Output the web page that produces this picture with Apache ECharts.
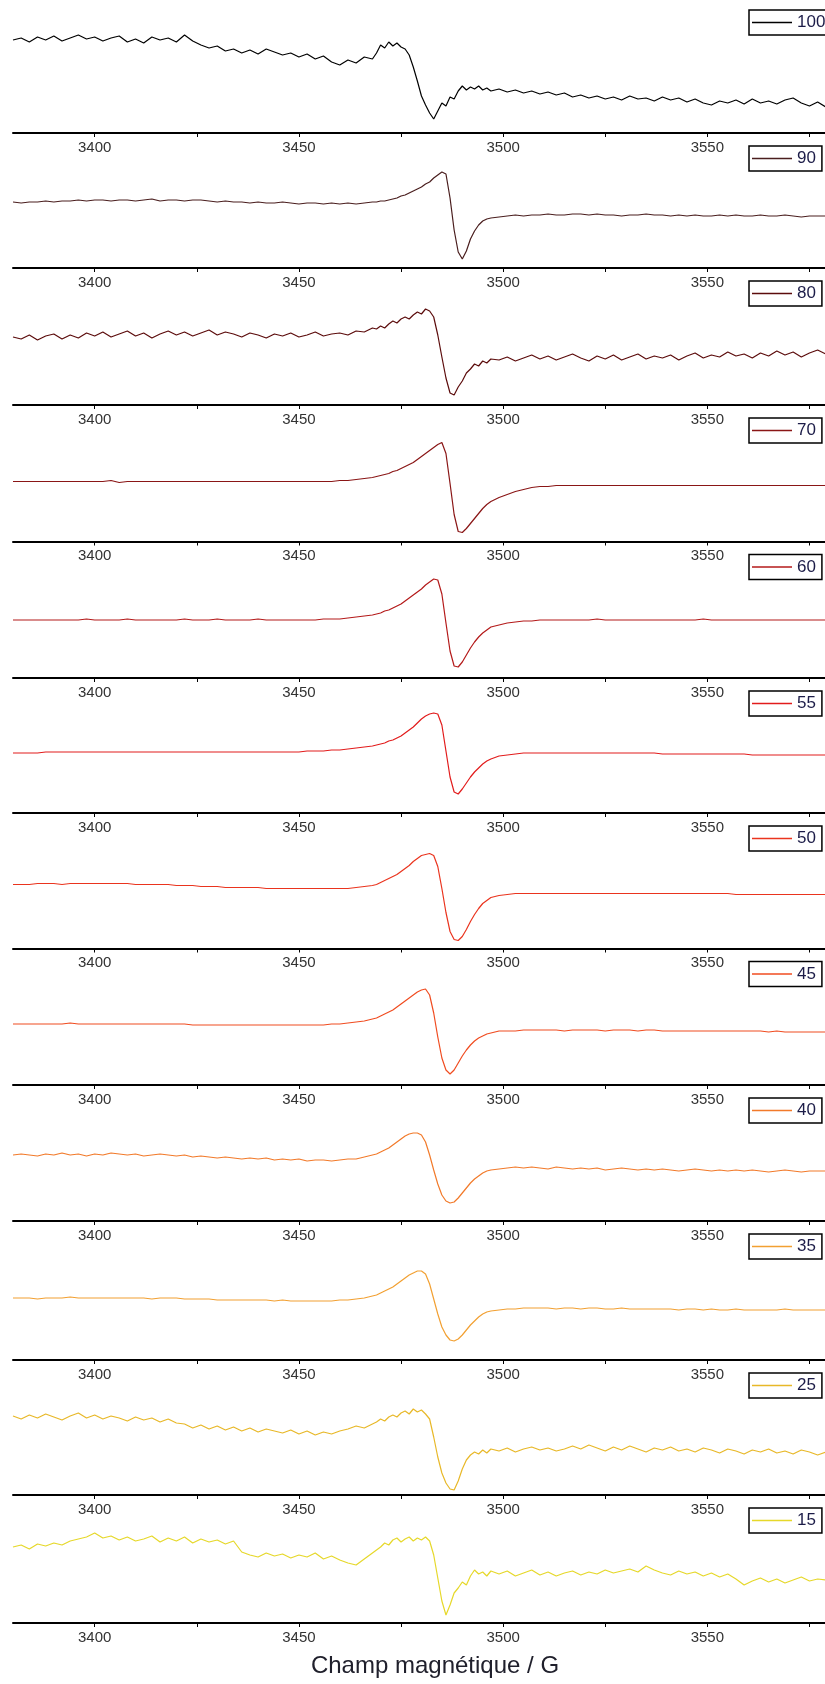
<!DOCTYPE html>
<html><head><meta charset="utf-8">
<script src="https://cdn.jsdelivr.net/npm/echarts@6/dist/echarts.min.js"></script>
<style>html,body{margin:0;padding:0;background:#fff}#c{width:825px;height:1684px}</style>
</head><body><div id="c"></div>
<script>
// Magnetic field (G)
const field = [
3380,3382,3384,3386,3388,3390,3392,3394,3396,3398,3400,3402,3404,3406,3408,3410,3412,3414,3416,3418,3420,3422,3424,3426,3428,3430,3432,3434,3436,3438,3440,3442,3444,3446,3448,3450,3452,3454,3456,3458,3460,3462,3464,3466,3468,
3469,3470,3471,3472,3473,3474,3475,3476,3477,3478,3479,3480,3481,3482,3483,3484,3485,3486,3487,3488,3489,3490,3491,3492,3493,3494,3495,3496,3497,
3499,3501,3503,3505,3507,3509,3511,3513,3515,3517,3519,3521,3523,3525,3527,3529,3531,3533,3535,3537,3539,3541,3543,3545,3547,3549,3551,3553,3555,3557,3559,3561,3563,3565,3567,3569,3571,3573,3575,3577,3579];

const names = ['100','90','80','70','60','55','50','45','40','35','25','15'];

// EPR signal (a.u.) per trace
const s100 = [93,95,91,96,93,97,92,95,98,94, 96,92,95,97,91,94,90,96,93,95, 91,98,92,88,85,87,82,84,80,83, 79,84,81,78,80,76,79,74,77,71, 68,73,70,76,74,
80,88,85,91,87,90,86,84,78,66, 52,37,28,20,14,22,30,27,36,34, 42,47,43,46,44,47,43,45,42,
44,41,43,40,42,39,41,38,40,36, 38,35,37,34,36,33,37,34,35,32, 36,33,35,31,34,30,28,32,30,33, 29,34,30,32,29,33,35,30,27,31, 26];
const s90 = [66,65,66,66,67,66,67,67,68,67, 68,68,67,68,68,67,68,69,67,68, 68,67,68,68,67,66,67,66,66,65, 66,65,65,66,65,64,65,65,64,65, 64,65,64,65,66,
66,67,67,68,69,70,72,73,75,77, 79,81,84,86,90,93,96,94,70,38, 16,9,17,29,37,43,47,49,50,
51,52,53,52,53,53,54,53,53,54, 54,53,54,53,53,52,53,53,54,53, 53,52,53,52,53,52,52,53,52,53, 52,52,53,52,52,53,52,51,52,52, 52];
const s80 = [68,66,70,65,69,71,66,70,67,72, 69,73,68,71,74,69,72,67,71,74, 70,73,69,72,75,70,73,71,68,72, 70,67,71,69,72,68,70,73,69,71, 72,70,74,73,77,
76,79,77,81,84,82,86,88,86,90, 93,91,96,94,88,70,48,27,12,10, 18,24,32,36,41,39,44,42,46,
45,48,44,47,50,46,49,45,48,51, 47,44,49,46,50,45,48,51,46,49, 47,50,45,49,52,47,50,48,53,49, 51,47,52,49,54,50,53,48,52,55, 51];
const s70 = [60,60,60,60,60,60,60,60,60,60, 60,60,61,59,60,60,60,60,60,60, 60,60,60,60,60,60,60,60,60,60, 60,60,60,60,60,60,60,60,60,60, 61,61,62,63,64,
65,66,67,68,70,71,73,75,77,79, 82,85,88,91,94,97,99,88,58,27, 10,9,13,18,23,28,33,37,40,
44,47,50,52,54,55,55,56,56,56, 56,56,56,56,56,56,56,56,56,56, 56,56,56,56,56,56,56,56,56,56, 56,56,56,56,56,56,56,56,56,56, 56];
const s60 = [58,58,58,58,58,58,58,58,58,59, 58,58,58,58,59,58,58,58,58,58, 58,59,58,58,58,59,58,58,58,58, 59,58,58,58,58,58,58,58,59,59, 59,60,61,62,63,
64,65,67,68,70,72,74,77,80,83, 86,89,93,96,99,98,84,55,27,12, 11,16,23,30,36,41,45,48,51,
53,55,56,57,57,58,58,58,58,58, 58,58,59,58,58,58,58,58,58,58, 58,58,58,58,58,59,58,58,58,58, 58,58,58,58,58,58,58,58,58,58, 58];
const s55 = [60,60,60,60,61,61,61,61,61,61, 61,61,61,61,61,61,61,61,61,61, 61,61,61,61,61,61,61,61,61,61, 61,61,61,61,61,61,62,62,62,63, 63,64,65,66,67,
68,69,70,72,73,75,77,80,83,86, 90,94,97,99,100,99,88,62,36,21, 19,24,30,36,41,45,49,52,54,
57,58,59,60,60,60,60,60,60,60, 60,60,60,60,60,60,60,60,60,60, 59,59,59,59,59,59,59,59,59,59, 59,58,58,58,58,58,58,58,58,58, 58];
const s50 = [64,64,64,65,65,65,64,65,65,65, 65,65,65,65,65,64,64,64,64,64, 63,63,63,62,62,62,61,61,61,61, 61,60,60,60,60,60,60,60,60,60, 60,60,61,62,63,
64,66,68,70,72,74,77,80,83,87, 90,93,94,95,93,82,60,36,17,9, 8,12,19,27,34,40,45,48,51,
53,54,55,55,55,55,55,55,55,55, 55,55,55,55,55,55,55,55,55,55, 55,55,55,55,55,55,55,55,55,54, 54,54,54,54,54,54,54,54,54,54, 54];
const s45 = [61,61,61,61,61,61,61,62,61,61, 61,61,61,61,61,61,61,61,61,61, 61,61,60,60,60,60,60,60,60,60, 60,60,60,60,60,60,60,60,60,61, 61,62,63,64,66,
67,69,71,73,75,78,81,84,87,90, 93,95,96,90,72,48,27,15,11,15, 22,29,35,40,44,47,49,51,52,
54,54,54,55,55,55,55,55,54,55, 55,55,55,54,55,55,55,54,55,55, 54,54,54,54,54,54,54,54,54,54, 54,54,54,53,54,53,53,53,53,53, 53];
const s40 = [66,67,66,65,67,66,68,66,67,65, 67,66,68,67,66,67,65,66,67,66, 65,66,64,65,64,63,64,63,62,63, 62,63,61,62,61,62,60,61,61,60, 61,62,62,64,66,
67,69,71,73,76,79,82,85,87,88, 88,86,79,66,51,37,26,20,18,19, 23,28,33,38,42,45,48,50,51,
52,53,54,53,54,53,52,54,53,52, 53,52,53,51,52,53,52,51,52,51, 52,51,50,51,52,51,50,51,50,51, 50,51,50,49,50,51,50,49,50,50, 50];
const s35 = [62,62,62,61,62,62,62,63,62,62, 62,62,62,62,62,62,62,61,62,62, 62,61,61,61,61,60,60,60,60,60, 60,60,59,60,59,59,59,59,59,59, 60,60,61,62,64,
65,67,69,71,73,76,79,82,85,87, 89,89,86,76,61,46,33,25,20,19, 21,25,30,35,39,43,46,48,49,
50,51,51,52,52,52,52,51,52,52, 51,52,52,51,51,52,51,51,51,51, 51,51,50,51,51,50,51,50,50,51, 50,50,50,50,50,51,50,50,50,50, 50];
const s25 = [79,76,80,77,81,78,75,79,82,77, 80,76,79,77,74,78,75,77,73,76, 72,71,67,70,66,69,65,68,64,67, 63,66,64,62,65,61,64,60,63,61, 64,66,69,67,71,
73,76,74,78,80,78,82,84,81,86, 83,85,81,76,58,38,22,12,6,5, 14,26,35,40,43,41,45,42,46,
44,47,43,46,48,45,47,44,46,49, 46,50,47,44,48,45,49,46,43,47, 45,48,44,46,43,47,45,42,46,44, 41,45,43,46,42,44,41,45,43,40, 43];
const s15 = [76,78,74,79,77,80,78,82,84,86, 90,85,87,83,86,82,84,87,81,85, 82,86,80,84,81,83,79,82,71,68, 66,70,67,69,65,68,66,70,64,67, 63,60,58,64,70,
73,76,80,78,83,85,81,84,86,82, 85,83,86,82,68,45,22,8,18,30, 35,41,38,47,53,49,51,47,52,
49,52,47,50,53,48,51,47,50,52, 48,51,49,53,50,52,54,51,57,53, 50,48,52,49,51,47,50,46,49,44, 38,42,45,41,44,40,43,46,42,44, 43];

const traces = [s100,s90,s80,s70,s60,s55,s50,s45,s40,s35,s25,s15];
const majorTicks = [3400,3450,3500,3550];
const allTicks = [3400,3425,3450,3475,3500,3525,3550,3575];

// styling / layout
const colors = ['#000000','#4a1e1e','#5c0c0c','#8a1616','#b41a1a','#e21c1c','#ea341e','#f04c20','#f27a2a','#f2a032','#e8b828','#e6d82a'];
const axisPos = [133, 268, 405, 541.5, 678, 813, 948.5, 1085, 1221, 1360, 1495, 1623];
const X0 = 13, XMIN = 3380, XMAX = 3578.8;

const chart = echarts.init(document.getElementById('c'), null, {renderer:'canvas'});
const grid = [], xAxis = [], yAxis = [], series = [], legend = [];
traces.forEach((vals, i) => {
  const top = i === 0 ? 0 : axisPos[i-1];
  const h = axisPos[i] - top;
  grid.push({left: X0, right: 0, top: top, height: h, containLabel: false});
  xAxis.push({
    gridIndex: i, type: 'value', min: XMIN, max: XMAX,
    axisLine: {show: true, onZero: false, lineStyle: {color: '#000', width: 2}},
    axisTick: {show: true, customValues: allTicks, length: 4, lineStyle: {color: '#000', width: 1}},
    axisLabel: {show: true, customValues: majorTicks, formatter: v => String(v), fontFamily: 'Arial, Liberation Sans', fontSize: 15, color: '#333', margin: 7},
    splitLine: {show: false}
  });
  yAxis.push({gridIndex: i, type: 'value', min: 0, max: h, show: false, splitLine:{show:false}});
  series.push({
    type: 'line', name: names[i], xAxisIndex: i, yAxisIndex: i,
    data: field.map((x, j) => [x, vals[j]]),
    symbol: 'none', showSymbol: false,
    lineStyle: {color: colors[i], width: 1.2}, itemStyle: {color: colors[i]},
    animation: false, silent: true
  });
  legend.push({
    data: [{name: names[i], icon: 'rect'}], left: 749, top: i === 0 ? 10 : axisPos[i-1] + 13,
    backgroundColor: '#fff', borderColor: '#000', borderWidth: 1.5, borderRadius: 0,
    padding: [4, 6, 4, 3], itemWidth: 40, itemHeight: 1.5, selectedMode: false,
    itemStyle: {color: colors[i], borderWidth: 0},
    textStyle: {fontFamily: 'Arial, Liberation Sans', fontSize: 17, color: '#1c1c48', lineHeight: 17}
  });
});

chart.setOption({
  animation: false,
  backgroundColor: '#fff',
  grid, xAxis, yAxis, series, legend,
  graphic: [{
    type: 'text', x: 435, y: 1666,
    style: {text: 'Champ magnétique / G', fontFamily: 'Arial, Liberation Sans', fontSize: 24, fill: '#20202c', textAlign: 'center', textVerticalAlign: 'middle'}
  }]
});
</script></body></html>
